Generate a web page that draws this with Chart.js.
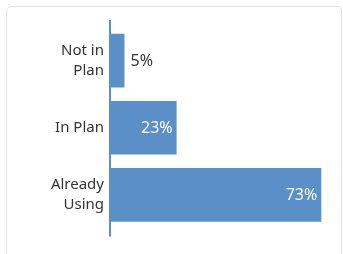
<!DOCTYPE html>
<html>
<head>
<meta charset="utf-8">
<script src="https://cdn.jsdelivr.net/npm/chart.js@4"></script>
<style>
  html, body { margin: 0; padding: 0; background: #ffffff; }
  .card {
    position: absolute; left: 6px; top: 6px; width: 334px; height: 260px;
    border: 1px solid #dfe4ea; border-radius: 5px; background: #fff;
  }
  .wrap { position: absolute; left: 0; top: 0; width: 343px; height: 254px; }
</style>
</head>
<body>
<div class="card"></div>
<div class="wrap"><canvas id="chart" width="343" height="254"></canvas></div>
<script>
// data
var categories = [['Not in', 'Plan'], 'In Plan', ['Already', 'Using']];
var percentages = [5, 23, 73];

var barColor = '#5b8fc8';

// value labels: inside the bar for long bars, outside for short ones
var valueLabels = {
  id: 'valueLabels',
  afterDatasetsDraw: function (chart) {
    var ctx = chart.ctx;
    var meta = chart.getDatasetMeta(0);
    ctx.save();
    ctx.font = '16px "Noto Sans"';
    ctx.textBaseline = 'middle';
    meta.data.forEach(function (bar, i) {
      var v = percentages[i];
      var txt = v + '%';
      if (v >= 15) {
        ctx.fillStyle = '#ffffff';
        ctx.textAlign = 'right';
        ctx.fillText(txt, bar.x - 4, bar.y + 1);
      } else {
        ctx.fillStyle = '#333333';
        ctx.textAlign = 'left';
        ctx.fillText(txt, bar.x + 6, bar.y + 1);
      }
    });
    ctx.restore();
  }
};

// vertical axis line, a bit longer than the plot area
var axisLine = {
  id: 'axisLine',
  afterDatasetsDraw: function (chart) {
    var ctx = chart.ctx;
    var a = chart.chartArea;
    ctx.save();
    ctx.strokeStyle = barColor;
    ctx.lineWidth = 2;
    ctx.beginPath();
    ctx.moveTo(a.left, a.top - 7);
    ctx.lineTo(a.left, a.bottom + 8);
    ctx.stroke();
    ctx.restore();
  }
};

new Chart(document.getElementById('chart'), {
  type: 'bar',
  data: {
    labels: categories,
    datasets: [{
      data: percentages,
      backgroundColor: barColor,
      borderWidth: 0,
      barPercentage: 0.8,
      categoryPercentage: 1
    }]
  },
  options: {
    indexAxis: 'y',
    responsive: false,
    animation: false,
    layout: { padding: { top: 27, bottom: 25, right: 13, left: 0 } },
    plugins: {
      legend: { display: false },
      tooltip: { enabled: false }
    },
    scales: {
      x: {
        display: false,
        min: 0,
        max: 76
      },
      y: {
        grid: { display: false, drawTicks: false },
        border: { display: false },
        ticks: {
          color: '#333333',
          padding: 6,
          font: { family: 'Noto Sans', size: 15, lineHeight: 1.3 }
        },
        afterFit: function (scale) { scale.width = 110; }
      }
    }
  },
  plugins: [valueLabels, axisLine]
});
</script>
</body>
</html>
